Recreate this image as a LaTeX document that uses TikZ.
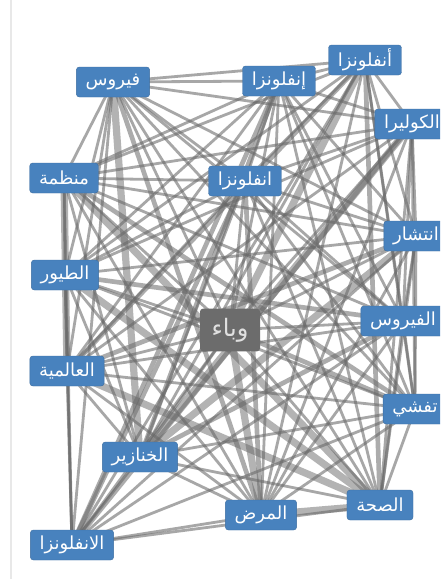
\documentclass[tikz,border=0pt]{standalone}
\usepackage{fontspec}
\newfontfamily\arfont[Script=Arabic]{DejaVu Sans}
\TeXXeTstate=1
\pgfdeclarelayer{bg}
\pgfdeclarelayer{paper}
\pgfsetlayers{paper,bg,main}
\definecolor{nodeblue}{RGB}{72,130,190}
\definecolor{edgegray}{RGB}{105,105,105}
\definecolor{hubgray}{RGB}{108,108,108}
\tikzset{
  wnode/.style={fill=nodeblue, draw=nodeblue!85!black, line width=0.3pt, rounded corners=2.25pt,
    text=white, font=\arfont\fontsize{13.5}{15}\selectfont, minimum height=22.5pt, inner xsep=7pt, inner ysep=2pt},
  hub/.style={fill=hubgray, rounded corners=2.25pt, text=white!88!black,
    font=\arfont\fontsize{18}{20}\selectfont, minimum height=32pt, minimum width=45pt, inner xsep=6pt},
  e1/.style={draw=edgegray, line width=2.1pt, opacity=0.58},
  e2/.style={draw=edgegray, line width=3.5pt, opacity=0.55},
  e3/.style={draw=edgegray, line width=5.4pt, opacity=0.5},
}
\newcommand{\ar}[1]{\beginR #1\endR}
\begin{document}
\begin{tikzpicture}[x=0.75pt,y=-0.75pt]
\useasboundingbox (0,0) rectangle (440,579);
\clip (0,0) rectangle (440,579);
\begin{pgfonlayer}{paper}
\fill[white] (0,0) rectangle (440,579);
\draw[gray!18, line width=0.8pt] (11,0) -- (11,579);
\end{pgfonlayer}
% nodes
\node[wnode] (A) at (113,82) {\ar{فيروس}};
\node[wnode] (B) at (279,81) {\ar{إنفلونزا}};
\node[wnode] (C) at (365,60) {\ar{أنفلونزا}};
\node[wnode] (D) at (412,124) {\ar{الكوليرا}};
\node[wnode] (E) at (64,178) {\ar{منظمة}};
\node[wnode] (F) at (245,181) {\ar{انفلونزا}};
\node[wnode] (G) at (416,236) {\ar{انتشار}};
\node[wnode] (H) at (65,275) {\ar{الطيور}};
\node[hub]   (W) at (230,330) {\ar{وباء}};
\node[wnode] (I) at (403,321) {\ar{الفيروس}};
\node[wnode] (J) at (67,371) {\ar{العالمية}};
\node[wnode] (K) at (415,409) {\ar{تفشي}};
\node[wnode] (L) at (140,457) {\ar{الخنازير}};
\node[wnode] (M) at (380,505) {\ar{الصحة}};
\node[wnode] (N) at (261,515) {\ar{المرض}};
\node[wnode] (O) at (72,545) {\ar{الانفلونزا}};
\begin{pgfonlayer}{bg}
\foreach \a/\b in {A/B,A/C,A/D,A/E,A/F,A/G,A/H,A/W,A/I,A/J,A/K,A/M,A/O,
  B/C,B/D,B/E,B/F,B/G,B/H,B/W,B/I,B/J,B/K,B/M,B/N,
  C/D,C/E,C/F,C/G,C/H,C/I,C/K,C/L,C/N,C/O,
  D/E,D/F,D/G,D/H,D/W,D/I,D/J,D/K,D/M,D/N,
  E/F,E/G,E/H,E/W,E/I,E/L,E/N,E/O,
  F/G,F/H,F/W,F/I,F/J,F/K,F/L,F/M,
  G/H,G/W,G/I,G/K,G/M,G/N,G/O,
  H/W,H/J,H/K,H/L,H/N,H/O,
  W/I,W/J,W/L,W/M,W/O,
  I/J,I/K,I/M,I/N,I/O,
  J/K,J/L,J/N,J/O,
  K/L,K/M,K/N,K/O,
  L/M,L/N,L/O,
  M/O,N/O}
  \draw[e1] (\a.center) -- (\b.center);
\foreach \a/\b in {C/M,F/N,B/L,A/N,H/I,E/K,C/J,D/O,F/O,W/K,G/J,B/O,I/L}
  \draw[e2] (\a.center) -- (\b.center);
\foreach \a/\b in {A/L,C/W,D/L,E/J,E/M,J/M,W/N,M/N,H/M,G/L}
  \draw[e3] (\a.center) -- (\b.center);
\end{pgfonlayer}
\end{tikzpicture}
\end{document}
